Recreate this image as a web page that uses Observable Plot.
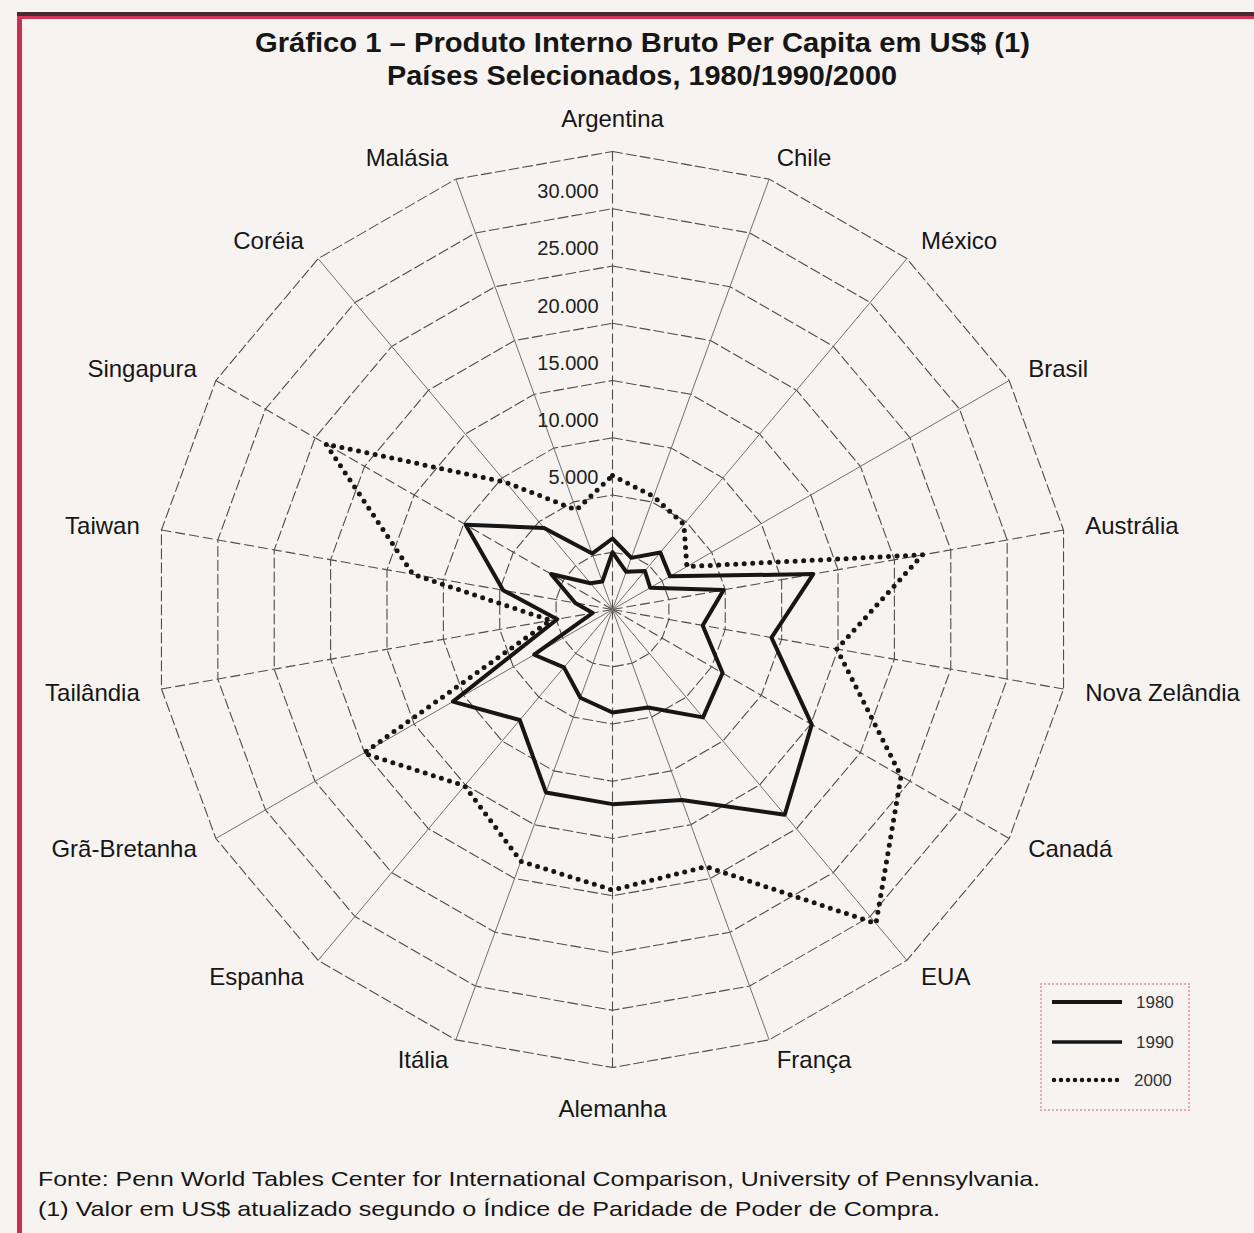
<!DOCTYPE html>
<html lang="pt">
<head>
<meta charset="utf-8">
<title>Gráfico 1 – Produto Interno Bruto Per Capita</title>
<script src="https://cdn.jsdelivr.net/npm/d3@7"></script>
<script src="https://cdn.jsdelivr.net/npm/@observablehq/plot@0.6"></script>
<style>
  html, body { margin:0; padding:0; }
  body { width:1254px; height:1233px; position:relative; overflow:hidden; background:#f7f3f1;
         font-family:"Liberation Sans", Arial, sans-serif; color:#161616; }
  .frame-left { position:absolute; left:17px; top:12px; width:5px; bottom:0; background:#c8304f; }
  .frame-top { position:absolute; left:17px; right:0; top:12px; height:4px; background:#4a2a32; }
  .frame-top2 { position:absolute; left:17px; right:0; top:16px; height:3px; background:#d1385a; }
  .txt { position:absolute; white-space:nowrap; line-height:1; transform-origin:0 0; }
  #title, #subtitle { font-family:"Liberation Sans Narrow","Arial Narrow","Liberation Sans",Arial,sans-serif; font-weight:bold; font-size:28px; }
  .cap { font-size:21px; }
  #chart { position:absolute; left:0; top:95px; }
  #legend { position:absolute; left:1040px; top:983px; width:150px; height:128px; box-sizing:border-box;
            border:2px dotted #e6a9b1; }
  #legend svg { position:absolute; left:0; top:0; }
</style>
</head>
<body>
<div class="frame-left"></div><div class="frame-top"></div><div class="frame-top2"></div>
<div id="title" class="txt">Gráfico 1 – Produto Interno Bruto Per Capita em US$ (1)</div>
<div id="subtitle" class="txt">Países Selecionados, 1980/1990/2000</div>
<div id="chart"></div>
<div id="legend">
  <svg width="150" height="128" font-family="Liberation Sans, Arial, sans-serif" font-size="17" fill="#333">
    <line x1="10" x2="80" y1="17" y2="17" stroke="#161616" stroke-width="4"/>
    <text x="94" y="23">1980</text>
    <line x1="10" x2="80" y1="57" y2="57" stroke="#161616" stroke-width="3.5"/>
    <text x="94" y="63">1990</text>
    <line x1="12" x2="82" y1="95" y2="95" stroke="#161616" stroke-width="4.5" stroke-dasharray="0,7" stroke-linecap="round"/>
    <text x="92" y="101">2000</text>
  </svg>
</div>
<div id="cap1" class="txt cap">Fonte: Penn World Tables Center for International Comparison, University of Pennsylvania.</div>
<div id="cap2" class="txt cap">(1) Valor em US$ atualizado segundo o Índice de Paridade de Poder de Compra.</div>
<script>
// ---------------- data ----------------
const countries = ["Argentina","Chile","México","Brasil","Austrália","Nova Zelândia","Canadá","EUA","França",
                   "Alemanha","Itália","Espanha","Grã-Bretanha","Tailândia","Taiwan","Singapura","Coréia","Malásia"];
const gdp1980 = [5000, 3500, 4400, 3800, 9850, 8000, 11100, 12300, 9100, 9000, 8200, 6600, 7900, 1750, 3300, 6200, 3000, 2600];
const gdp1990 = [6200, 4800, 6500, 5800, 17800, 14100, 20100, 23400, 17700, 17000, 17000, 12600, 16100, 4900, 9700, 14800, 9300, 5200];
const gdp2000 = [11700, 10500, 9700, 7500, 27500, 19900, 29100, 35800, 23900, 24500, 23400, 20100, 25100, 5500, 17700, 28900, 14500, 9250];
const years = ["1980", "1990", "2000"];
const ringValues = [5000, 10000, 15000, 20000, 25000, 30000, 35000, 40000];
const tickValues = [5000, 10000, 15000, 20000, 25000, 30000];
const tickLabels = ["5.000", "10.000", "15.000", "20.000", "25.000", "30.000"];
const dashedSpokes = ["Argentina", "Alemanha", "Taiwan", "Nova Zelândia", "Singapura", "Canadá", "Tailândia", "Austrália"];

// ---------------- geometry ----------------
const W = 1254, H = 1060, CX = 612, CY = 514, RPX = 458;
const maxV = d3.max(ringValues);
const k = RPX / maxV;                       // px per US$
const n = countries.length;
const ang = i => (i / n) * 2 * Math.PI;     // clockwise from top
const polar = (v, i) => ({x: v * Math.sin(ang(i)), y: v * Math.cos(ang(i))});

const seriesVals = {"1980": gdp1980, "1990": gdp1990, "2000": gdp2000};
const points = years.flatMap(yr => seriesVals[yr].map((v, i) => ({year: yr, country: countries[i], value: v, ...polar(v, i)})));
const ringPts = ringValues.flatMap(r => countries.map((c, i) => ({ring: r, ...polar(r, i)})));
const spokes = countries.map((c, i) => {
  const p = polar(maxV, i);
  return {country: c, x1: 0, y1: 0, x2: p.x, y2: p.y, dashed: dashedSpokes.includes(c)};
});
const labelR = maxV + 22 / k;
const labels = countries.map((c, i) => ({country: c, i, ...polar(labelR, i)}));
const ticks = tickValues.map((v, j) => ({v, label: tickLabels[j], ...polar(v + 5000, 0)}));

const ser = yr => points.filter(d => d.year === yr);
const lblFont = {fontSize: 24, fill: "#161616", fontFamily: "Liberation Sans, Arial, sans-serif"};

const chart = Plot.plot({
  width: W, height: H, margin: 0,
  x: {domain: [-CX / k, (W - CX) / k], axis: null},
  y: {domain: [-(H - CY) / k, CY / k], axis: null},
  style: {background: "transparent", fontFamily: "Liberation Sans, Arial, sans-serif", overflow: "visible"},
  marks: [
    Plot.line(ringPts, {x: "x", y: "y", z: "ring", curve: "linear-closed", stroke: "#4d4d4d", strokeWidth: 1.1, strokeDasharray: "10,4"}),
    Plot.link(spokes.filter(d => d.dashed), {x1: "x1", y1: "y1", x2: "x2", y2: "y2", stroke: "#4d4d4d", strokeWidth: 1.1, strokeDasharray: "10,4"}),
    Plot.link(spokes.filter(d => !d.dashed), {x1: "x1", y1: "y1", x2: "x2", y2: "y2", stroke: "#707070", strokeWidth: 1}),
    Plot.text(ticks, {x: "x", y: "y", text: "label", textAnchor: "end", dx: -14, dy: -17, fontSize: 20, fill: "#222"}),
    Plot.line(ser("1980"), {x: "x", y: "y", curve: "linear-closed", stroke: "#161616", strokeWidth: 4, strokeLinejoin: "round"}),
    Plot.line(ser("1990"), {x: "x", y: "y", curve: "linear-closed", stroke: "#161616", strokeWidth: 4, strokeLinejoin: "round"}),
    Plot.line(ser("2000"), {x: "x", y: "y", curve: "linear-closed", stroke: "#161616", strokeWidth: 5, strokeDasharray: "0,8.5", strokeLinecap: "round"}),
    Plot.text(labels.filter(d => d.i > 0 && d.i < n / 2), {x: "x", y: "y", text: "country", textAnchor: "start", ...lblFont}),
    Plot.text(labels.filter(d => d.i > n / 2), {x: "x", y: "y", text: "country", textAnchor: "end", ...lblFont}),
    Plot.text(labels.filter(d => d.i === 0), {x: "x", y: "y", text: "country", textAnchor: "middle", dy: -10, ...lblFont}),
    Plot.text(labels.filter(d => d.i === n / 2), {x: "x", y: "y", text: "country", textAnchor: "middle", dy: 20, ...lblFont})
  ]
});
document.getElementById("chart").appendChild(chart);

// ---------------- fit header / caption texts ----------------
function place(id, left, right, baseline) {
  const el = document.getElementById(id);
  const fs = parseFloat(getComputedStyle(el).fontSize);
  el.style.left = left + "px";
  el.style.top = (baseline - 0.85 * fs) + "px";
  const w = el.getBoundingClientRect().width;
  el.style.transform = `scaleX(${(right - left) / w})`;
}
place("title", 255, 1030, 53);
place("subtitle", 387, 897, 86);
place("cap1", 38, 1040, 1186);
place("cap2", 38, 940, 1216);
</script>
</body>
</html>
